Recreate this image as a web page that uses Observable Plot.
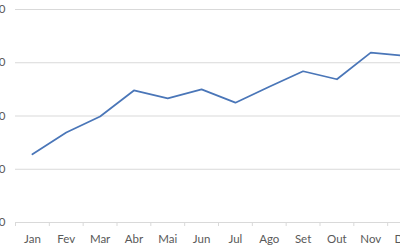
<!DOCTYPE html>
<html>
<head>
<meta charset="utf-8">
<script src="https://cdn.jsdelivr.net/npm/d3@7"></script>
<script src="https://cdn.jsdelivr.net/npm/@observablehq/plot@0.6"></script>
<style>
  html, body { margin: 0; padding: 0; background: #fff; overflow: hidden; width: 400px; height: 250px; }
  #chart { position: relative; margin-left: -30px; width: 461px; }
  #chart svg { max-width: none !important; display: block; }
</style>
</head>
<body>
<div id="chart"></div>
<script>
const months = ["Jan", "Fev", "Mar", "Abr", "Mai", "Jun", "Jul", "Ago", "Set", "Out", "Nov", "Dez"];
const values = [12.8, 16.9, 19.9, 24.8, 23.3, 25.0, 22.5, 25.5, 28.4, 26.9, 31.9, 31.3];
const yTicks = [0, 10, 20, 30, 40];

const data = months.map((m, i) => ({month: m, value: values[i]}));

const width = 461, marginLeft = 45, marginRight = 10;
const step = (width - marginLeft - marginRight) / months.length;

const chart = Plot.plot({
  width,
  height: 250,
  marginLeft,
  marginRight,
  marginTop: 9,
  marginBottom: 28,
  style: {fontFamily: "Lato, 'Open Sans', sans-serif", fontSize: "11.5px", color: "#595959", background: "#fff", maxWidth: "none"},
  x: {type: "band", domain: months, padding: 0, round: false},
  y: {domain: [0, 40]},
  marks: [
    Plot.gridY(yTicks, {stroke: "#d9d9d9", strokeOpacity: 1}),
    Plot.ruleY([0], {stroke: "#d9d9d9"}),
    Plot.axisX({tickSize: 4, text: null, dx: -step / 2, stroke: "#d9d9d9", strokeOpacity: 1, label: null}),
    Plot.axisX({tickSize: 0, tickPadding: 12, label: null, fontSize: 11.5}),
    Plot.axisY(yTicks, {tickSize: 0, tickPadding: 10, label: null, fontSize: 11.5}),
    Plot.line(data, {x: "month", y: "value", stroke: "#4a76b8", strokeWidth: 1.75})
  ]
});
document.getElementById("chart").append(chart);
</script>
</body>
</html>
